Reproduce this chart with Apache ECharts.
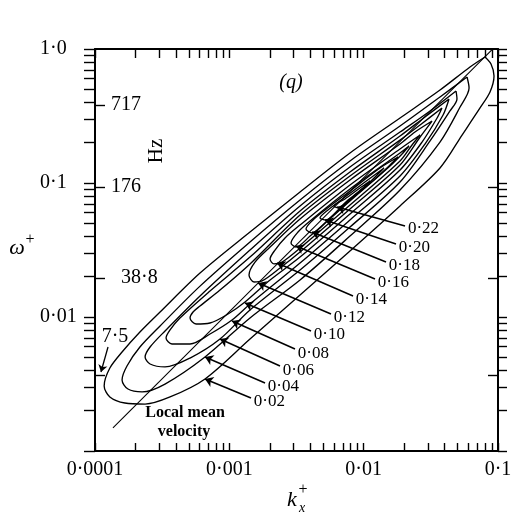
<!DOCTYPE html>
<html><head><meta charset="utf-8">
<script src="https://cdn.jsdelivr.net/npm/echarts@6/dist/echarts.min.js"></script>
<style>html,body{margin:0;padding:0;background:#fff}#c{width:511px;height:515px}</style>
</head><body><div id="c"></div>
<script>
// ---------- data (k_x^+, omega^+) ----------
const levels = ['0·02','0·04','0·06','0·08','0·10','0·12','0·14','0·16','0·18','0·20','0·22'];

const contour002 = [[0.0800,0.872],[0.0619,0.734],[0.0370,0.494],[0.01865,0.3055],[0.00791,0.1675],[0.00336,0.0857],[0.001425,0.0431],[0.000605,0.0213],[0.000305,0.0109],[0.000216,0.00773],[0.000159,0.00548],[0.000129,0.00416],[0.000117,0.00306],[0.000129,0.00253],[0.000167,0.00228],[0.000236,0.00224],[0.000362,0.00253],[0.000659,0.00345],[0.001425,0.00685],[0.00336,0.0146],[0.00791,0.0311],[0.01865,0.0674],[0.0370,0.1294],[0.0540,0.228],[0.0735,0.363],[0.0872,0.478],[0.0934,0.629],[0.0887,0.773],[0.0800,0.872]];
const contour004 = [[0.0588,0.618],[0.0370,0.438],[0.01865,0.266],[0.00791,0.146],[0.00336,0.0747],[0.001425,0.0363],[0.000605,0.0170],[0.000305,0.00857],[0.000216,0.00597],[0.000173,0.00431],[0.000159,0.00339],[0.000176,0.00290],[0.000224,0.00276],[0.000332,0.00316],[0.000659,0.00503],[0.001425,0.00983],[0.00336,0.0189],[0.00791,0.0402],[0.01865,0.0887],[0.0370,0.202],[0.0522,0.369],[0.0609,0.512],[0.0588,0.618]];
const contour006 = [[0.0487,0.486],[0.0312,0.345],[0.01865,0.240],[0.00791,0.1316],[0.00336,0.0674],[0.001425,0.0316],[0.000605,0.01435],[0.000332,0.00786],[0.000257,0.00597],[0.000236,0.00503],[0.000257,0.00446],[0.000332,0.00424],[0.000510,0.00494],[0.000852,0.00685],[0.001425,0.01128],[0.00336,0.0224],[0.00791,0.0469],[0.01865,0.1017],[0.0312,0.206],[0.0439,0.345],[0.0495,0.424],[0.0487,0.486]];
const contour008 = [[0.0432,0.424],[0.0286,0.311],[0.01865,0.224],[0.00791,0.1208],[0.00336,0.0618],[0.001425,0.0280],[0.000718,0.01563],[0.000429,0.00983],[0.000362,0.00800],[0.000338,0.00697],[0.000374,0.00629],[0.000510,0.00629],[0.000718,0.00747],[0.001047,0.00950],[0.001425,0.0125],[0.00336,0.0253],[0.00791,0.0530],[0.01865,0.1128],[0.0286,0.1954],[0.0390,0.322],[0.0432,0.424]];
const contour010 = [[0.0383,0.363],[0.0263,0.271],[0.01865,0.209],[0.00791,0.1128],[0.00336,0.0577],[0.001425,0.0249],[0.000852,0.0159],[0.000605,0.01208],[0.000537,0.0109],[0.000510,0.00983],[0.000565,0.00887],[0.000718,0.00902],[0.000978,0.01053],[0.001308,0.01294],[0.00201,0.01888],[0.00336,0.0280],[0.00791,0.0587],[0.01865,0.1250],[0.0272,0.202],[0.0352,0.3055],[0.0383,0.363]];
const contour012 = [[0.0323,0.290],[0.0241,0.240],[0.01865,0.1954],[0.00791,0.1053],[0.00336,0.0539],[0.00201,0.0333],[0.001553,0.0257],[0.001401,0.0206],[0.001527,0.01825],[0.001751,0.01857],[0.002384,0.0232],[0.00336,0.03055],[0.00791,0.0640],[0.01865,0.1362],[0.0263,0.2205],[0.0323,0.290]];
const contour014 = [[0.0263,0.228],[0.01865,0.1794],[0.00791,0.0966],[0.00336,0.0486],[0.002597,0.0389],[0.002188,0.0316],[0.00201,0.0271],[0.00215,0.0249],[0.002467,0.0257],[0.00336,0.0327],[0.00791,0.0685],[0.01865,0.1460],[0.0229,0.1921],[0.0263,0.228]];
const contour016 = [[0.02176,0.1888],[0.01865,0.1675],[0.00791,0.0902],[0.00399,0.0521],[0.003245,0.0431],[0.002878,0.0357],[0.003136,0.0333],[0.00399,0.0402],[0.00791,0.0734],[0.01571,0.1339],[0.0193,0.1646],[0.02176,0.1888]];
const contour018 = [[0.01802,0.1563],[0.01323,0.1294],[0.00791,0.0872],[0.005155,0.0629],[0.004125,0.0521],[0.003722,0.0454],[0.004125,0.0424],[0.005616,0.0548],[0.00791,0.0747],[0.01215,0.1071],[0.01571,0.1362],[0.01802,0.1563]];
const contour020 = [[0.01417,0.1294],[0.01023,0.1017],[0.00726,0.0786],[0.005427,0.0629],[0.004732,0.0548],[0.005245,0.0530],[0.006667,0.0651],[0.00862,0.0814],[0.01154,0.1053],[0.01417,0.1294]];
const contour022 = [[0.01115,0.1035],[0.00939,0.0918],[0.00726,0.0760],[0.006015,0.0674],[0.006442,0.0651],[0.007645,0.0747],[0.00972,0.0902],[0.01115,0.1035]];

const contours = [contour002,contour004,contour006,contour008,contour010,contour012,contour014,contour016,contour018,contour020,contour022];

// leader lines: from label end to arrow tip
const leaderFrom = [[1.450e-3,2.486e-3],[1.844e-3,3.217e-3],[2.384e-3,4.309e-3],[3.083e-3,5.770e-3],[4.055e-3,7.862e-3],[5.714e-3,1.053e-2],[8.33e-3,1.435e-2],[1.215e-2,1.921e-2],[1.467e-2,2.573e-2],[1.741e-2,3.506e-2],[2.032e-2,4.776e-2]];
const leaderTo = [[6.59e-4,3.446e-3],[6.59e-4,5.029e-3],[8.52e-4,6.852e-3],[1.047e-3,9.335e-3],[1.308e-3,1.272e-2],[1.635e-3,1.794e-2],[2.264e-3,2.529e-2],[3.136e-3,3.388e-2],[4.125e-3,4.308e-2],[5.154e-3,5.296e-2],[6.332e-3,6.622e-2]];

// local mean velocity line
const localMean = [[1.36e-4,1.49e-3],[0.09,0.985]];

// Hz scale
const hzLabels = ['717','176','38·8','7·5'];
const hzOmega = [0.382,0.0933,0.0196,0.0037];
const hzArrow = [[1.250e-4,5.972e-3],[1.108e-4,3.887e-3]];

// ticks
const kTicks = [0.0001,0.0002,0.0003,0.0004,0.0005,0.0006,0.0007,0.0008,0.0009,0.001,0.002,0.003,0.004,0.005,0.006,0.007,0.008,0.009,0.01,0.02,0.03,0.04,0.05,0.06,0.07,0.08,0.09,0.1];
const wTicks = [0.001,0.002,0.003,0.004,0.005,0.006,0.007,0.008,0.009,0.01,0.02,0.03,0.04,0.05,0.06,0.07,0.08,0.09,0.1,0.2,0.3,0.4,0.5,0.6,0.7,0.8,0.9,1];
const kLabelValues = [0.0001,0.001,0.01,0.1];
const kLabelText = ['0·0001','0·001','0·01','0·1'];
const wLabelValues = [0.01,0.1,1];
const wLabelText = ['0·01','0·1','1·0'];

// ---------- chart ----------
const FONT = '"Liberation Serif","Times New Roman","DejaVu Serif",serif';
const L = Math.log10;
const findIdx = (arr, v) => arr.findIndex(t => Math.abs(L(t) - v) < 1e-6);
const axLine = {show:true, onZero:false, lineStyle:{color:'#000', width:2}};
const tickStyle = {color:'#000', width:1.4};

const chart = echarts.init(document.getElementById('c'), null, {renderer:'canvas'});

const series = contours.map((d, i) => ({
  type:'line', name: levels[i], xAxisIndex:0, yAxisIndex:0, data:d,
  showSymbol:false, symbol:'none', smooth:0.3, silent:true,
  lineStyle:{color:'#000', width:1.35}, z:3
}));
series.push({
  type:'line', xAxisIndex:0, yAxisIndex:0, data:localMean, showSymbol:false, symbol:'none',
  silent:true, lineStyle:{color:'#000', width:1.1}, z:3
});
series.push({
  type:'lines', coordinateSystem:'cartesian2d', xAxisIndex:0, yAxisIndex:0, silent:true,
  symbol:['none','arrow'], symbolSize:8,
  lineStyle:{color:'#000', width:1.5, opacity:1},
  label:{show:true, position:'start', formatter:'{b}', fontSize:17, fontFamily:FONT, color:'#000', distance:[3,10]},
  data: levels.map((lv, i) => ({name: lv, coords:[leaderFrom[i], leaderTo[i]]})), z:4
});
series.push({
  type:'lines', coordinateSystem:'cartesian2d', xAxisIndex:0, yAxisIndex:0, silent:true,
  symbol:['none','arrow'], symbolSize:7,
  lineStyle:{color:'#000', width:1.3, opacity:1},
  data:[{coords: hzArrow}], z:4
});

const option = {
  animation:false,
  backgroundColor:'#fff',
  grid:{left:95, right:13, top:49, bottom:64, containLabel:false, outerBoundsMode:'none'},
  xAxis:[
    {type:'log', logBase:10, min:1e-4, max:0.1, show:false},
    {type:'value', position:'bottom', min:-4, max:-1, axisLine:axLine, splitLine:{show:false},
      axisTick:{show:true, inside:true, length:8, lineStyle:tickStyle, customValues:kTicks.map(L)},
      axisLabel:{show:true, customValues:kLabelValues.map(L), margin:9, fontSize:20, fontFamily:FONT, color:'#000',
        formatter: v => { const i = findIdx(kLabelValues, v); return i >= 0 ? kLabelText[i] : ''; }}},
    {type:'value', position:'top', min:-4, max:-1, axisLine:axLine, splitLine:{show:false},
      axisTick:{show:true, inside:true, length:9, lineStyle:tickStyle, customValues:kTicks.map(L)},
      axisLabel:{show:false}}
  ],
  yAxis:[
    {type:'log', logBase:10, min:1e-3, max:1, show:false},
    {type:'value', position:'left', min:-3, max:0, axisLine:axLine, splitLine:{show:false},
      axisTick:{show:true, inside:false, length:11, lineStyle:tickStyle, customValues:wTicks.map(L)},
      axisLabel:{show:true, customValues:wLabelValues.map(L), align:'left', margin:55, fontSize:20, fontFamily:FONT, color:'#000',
        formatter: v => { const i = findIdx(wLabelValues, v); return i >= 0 ? wLabelText[i] : ''; }}},
    {type:'value', position:'left', min:-3, max:0, axisLine:{show:false, onZero:false}, splitLine:{show:false},
      axisTick:{show:true, inside:true, length:10, lineStyle:tickStyle, customValues:hzOmega.map(L)},
      axisLabel:{show:true, inside:true, margin:16, customValues:hzOmega.slice(0,3).map(L), fontSize:20, fontFamily:FONT, color:'#000',
        formatter: v => { const i = findIdx(hzOmega, v); if (i < 0 || i === 3) return ''; return i === 2 ? '{p|' + hzLabels[i] + '}' : hzLabels[i]; },
        rich:{p:{padding:[0,0,0,10], fontSize:20, fontFamily:FONT, color:'#000'}}}},
    {type:'value', position:'right', min:-3, max:0, axisLine:axLine, splitLine:{show:false},
      axisTick:{show:true, inside:false, length:9, lineStyle:tickStyle, customValues:wTicks.map(L)},
      axisLabel:{show:false}},
    {type:'value', position:'right', min:-3, max:0, axisLine:{show:false, onZero:false}, splitLine:{show:false},
      axisTick:{show:true, inside:true, length:10, lineStyle:tickStyle, customValues:hzOmega.map(L)},
      axisLabel:{show:false}}
  ],
  graphic:[
    {type:'text', x:291, y:83, style:{text:'(q)', font:'italic 20px ' + FONT, fill:'#000', align:'center', verticalAlign:'middle'}},
    {type:'text', x:156, y:151, rotation:Math.PI/2, style:{text:'Hz', font:'21px ' + FONT, fill:'#000', align:'center', verticalAlign:'middle'}},
    {type:'text', x:115, y:337, style:{text:hzLabels[3], font:'20px ' + FONT, fill:'#000', align:'center', verticalAlign:'middle'}},
    {type:'text', x:185, y:413, style:{text:'Local mean', font:'bold 16px ' + FONT, fill:'#000', align:'center', verticalAlign:'middle'}},
    {type:'text', x:184, y:432, style:{text:'velocity', font:'bold 16px ' + FONT, fill:'#000', align:'center', verticalAlign:'middle'}},
    {type:'text', x:17, y:248, style:{text:'ω', font:'italic 22px ' + FONT, fill:'#000', align:'center', verticalAlign:'middle'}},
    {type:'text', x:30, y:240, style:{text:'+', font:'16px ' + FONT, fill:'#000', align:'center', verticalAlign:'middle'}},
    {type:'text', x:292, y:500, style:{text:'k', font:'italic 22px ' + FONT, fill:'#000', align:'center', verticalAlign:'middle'}},
    {type:'text', x:303, y:490, style:{text:'+', font:'16px ' + FONT, fill:'#000', align:'center', verticalAlign:'middle'}},
    {type:'text', x:302, y:508, style:{text:'x', font:'italic 14px ' + FONT, fill:'#000', align:'center', verticalAlign:'middle'}}
  ],
  series: series
};
chart.setOption(option);
</script>
</body></html>
